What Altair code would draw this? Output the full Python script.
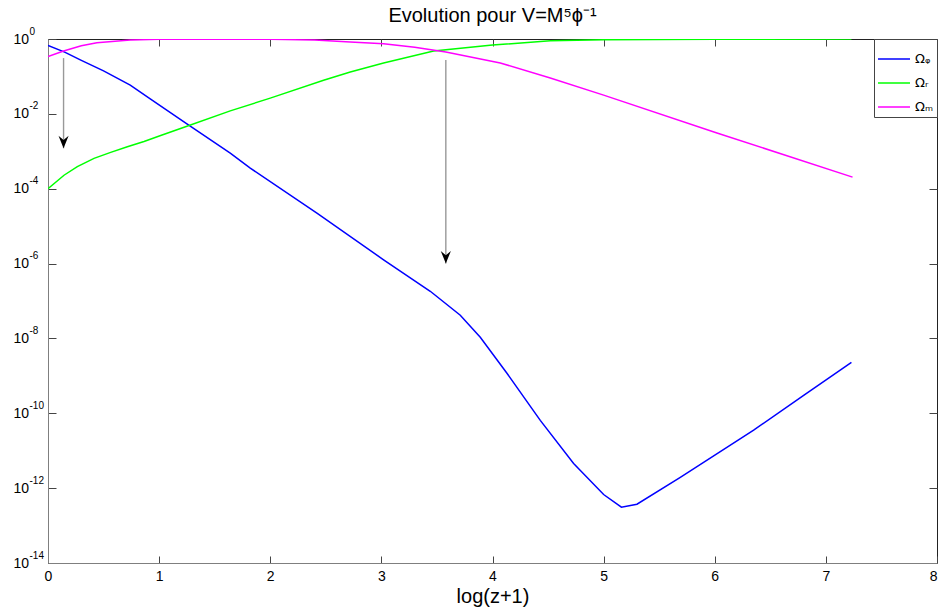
import math
import altair as alt
import pandas as pd

# ---- data (log10 values) ----
names = ["Ωᵩ", "Ωᵣ", "Ωₘ"]
colors = ["#0000ff", "#00ff00", "#ff00ff"]

phi_x = [0.0, 0.15, 0.3, 0.5, 0.74, 0.92, 1.25, 1.64, 1.82, 2.42, 3.02, 3.44, 3.71, 3.89,
         4.13, 4.43, 4.73, 5.0, 5.16, 5.30, 5.69, 6.35, 6.80, 7.23]
phi_log = [-0.17, -0.35, -0.57, -0.85, -1.23, -1.6, -2.27, -3.05, -3.45, -4.65, -5.9, -6.74,
           -7.38, -7.97, -8.93, -10.19, -11.34, -12.17, -12.51, -12.43, -11.71, -10.45, -9.52, -8.64]

r_x = [0.0, 0.144, 0.264, 0.414, 0.564, 0.714, 0.864, 1.014, 1.25, 1.64, 2.0, 2.48, 2.72,
       3.02, 3.47, 4.0, 4.52, 5.0, 6.0, 7.23]
r_log = [-4.0, -3.64, -3.41, -3.19, -3.03, -2.88, -2.74, -2.58, -2.33, -1.92, -1.58, -1.1,
         -0.88, -0.64, -0.32, -0.16, -0.05, -0.02, -0.005, -0.002]

m_x = [0.0, 0.14, 0.3, 0.44, 0.74, 1.0, 2.0, 2.4, 2.72, 3.02, 3.3, 3.58, 4.07, 4.52,
       5.0, 6.02, 7.24]
m_log = [-0.47, -0.32, -0.18, -0.1, -0.03, -0.01, -0.01, -0.03, -0.08, -0.13, -0.22, -0.35,
         -0.64, -1.04, -1.5, -2.51, -3.69]

arrow_x = [0.14, 3.58]
arrow_start_log = [-0.51, -0.56]
arrow_end_log = [-2.92, -6.0]

x_ticks = [0, 1, 2, 3, 4, 5, 6, 7, 8]
y_ticks = [1e-14, 1e-12, 1e-10, 1e-8, 1e-6, 1e-4, 1e-2, 1e0]
y_base = "10"
y_exps = ["-14", "-12", "-10", "-8", "-6", "-4", "-2", "0"]

title_text = "Evolution pour V=M⁵ϕ⁻¹"
x_title = "log(z+1)"

# ---- build tables ----
rows = []
for name, xs_, ls in [(names[0], phi_x, phi_log), (names[1], r_x, r_log), (names[2], m_x, m_log)]:
    for i, (a, b) in enumerate(zip(xs_, ls)):
        rows.append({"series": name, "x": a, "v": 10 ** b, "i": i})
df = pd.DataFrame(rows)

arr = pd.DataFrame({
    "x": arrow_x,
    "v0": [10 ** a for a in arrow_start_log],
    "v1": [10 ** a for a in arrow_end_log],
})

# label expression for the exponent of each y tick
expr = "''"
for t, lab in zip(y_ticks, y_exps):
    e = round(math.log10(t))
    expr = f"(abs(log(datum.value)/LN10 - ({e})) < 0.1 ? '{lab}' : {expr})"

W, H = 889, 524
FONT = "Liberation Sans"

xs = alt.Scale(domain=[0, 8], nice=False, zero=False)
ys = alt.Scale(type="log", domain=[1e-14, 1], nice=False)

lines = alt.Chart(df).mark_line(strokeWidth=1.5, clip=True).encode(
    x=alt.X("x:Q", scale=xs, axis=alt.Axis(
        orient="bottom", values=x_ticks, title=x_title, ticks=False, tickSize=0, labelPadding=6,
        domainColor="#7f7f7f", labelFont=FONT, labelFontSize=14, labelColor="#000",
        labelAlign={"condition": {"test": f"datum.value == {x_ticks[-1]}", "value": "right"},
                    "value": "center"},
        titleFont=FONT, titleFontSize=20, titleFontWeight="normal", titleColor="#000",
        titlePadding=3, labelFlush=False, format="d",
        grid=True, gridColor="#444", gridOpacity=1, gridWidth=1, gridDash=[7, H - 14])),
    y=alt.Y("v:Q", scale=ys, axis=alt.Axis(
        values=y_ticks, labelExpr=f"'{y_base}'", ticks=False, tickSize=0, title=None,
        labelPadding=35, labelAlign="left",
        domainColor="#7f7f7f", labelFont=FONT, labelFontSize=14, labelColor="#000",
        labelFlush=False, labelBaseline="middle",
        grid=True, gridColor="#444", gridOpacity=1, gridWidth=1, gridDash=[8, W - 16])),
    color=alt.Color("series:N", scale=alt.Scale(domain=names, range=colors), sort=names,
                    legend=alt.Legend(
                        orient="top-right", title=None, symbolType="stroke",
                        symbolSize=1024, symbolStrokeWidth=1.5, labelFont="DejaVu Sans",
                        labelFontSize=13, labelColor="#000", strokeColor="#444",
                        fillColor="white", padding=3, offset=0, rowPadding=-3,
                        labelOffset=4)),
    order="i:Q",
)

# exponent labels (superscripts) as a second y axis
sup = alt.Chart(df).mark_point(opacity=0).encode(
    x=alt.X("x:Q", scale=xs, axis=None),
    y=alt.Y("v:Q", scale=ys, axis=alt.Axis(
        orient="left", values=y_ticks, labelExpr=expr, ticks=False, tickSize=0, domain=False,
        grid=False, title=None, labelPadding=19, labelAlign="left", labelBaseline="middle",
        labelOffset=-8, labelFont=FONT, labelFontSize=10, labelColor="#000", labelFlush=False)),
)

shaft = alt.Chart(arr).mark_rule(color="#999999", strokeWidth=1.4).encode(
    x=alt.X("x:Q", scale=xs, axis=None),
    y=alt.Y("v0:Q", scale=ys, axis=None),
    y2="v1:Q")
head = alt.Chart(arr).mark_point(
    shape="M0,0L-0.8,-2L0,-1.3L0.8,-2Z", filled=True, color="#000", size=160, opacity=1
).encode(x=alt.X("x:Q", scale=xs, axis=None), y=alt.Y("v1:Q", scale=ys, axis=None))

chart = alt.layer(lines, sup, shaft, head).resolve_axis(
    x="independent", y="independent"
).properties(
    width=W, height=H,
    title=alt.TitleParams(title_text, font=FONT, fontSize=20, fontWeight="normal",
                          color="#000", offset=0, anchor="middle"),
    autosize=alt.AutoSizeParams(type="none"),
    padding={"left": 40, "top": 31, "right": 1, "bottom": 45},
).configure_view(stroke="#222222", strokeWidth=1)

chart.save("out.html", embed_options={"renderer": "svg", "actions": False})
